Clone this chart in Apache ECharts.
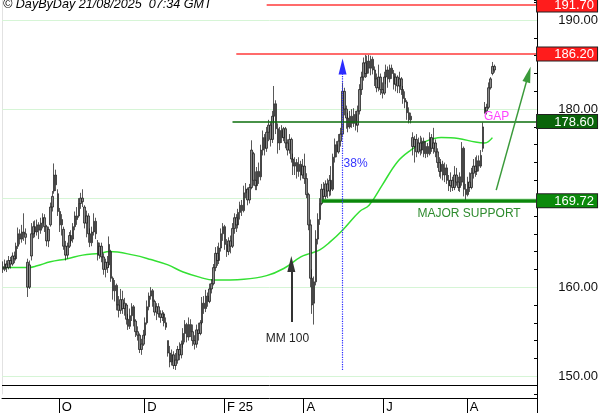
<!DOCTYPE html>
<html><head><meta charset="utf-8">
<script src="https://cdn.jsdelivr.net/npm/echarts@6/dist/echarts.min.js"></script>
<style>html,body{margin:0;padding:0;background:#fff}#c{width:600px;height:413px}</style>
</head><body><div id="c"></div>
<script>
// ---- data ----
const slotCount = 282; // trading-day slots on the x axis (last ~22 are empty)
const categories = Array.from({length: slotCount}, (_, i) => String(i));
const monthTickIndex = [30, 75, 117, 159, 201, 245];
const monthTickLabels = ['O', 'D', 'F 25', 'A', 'J', 'A'];
// [open, close, low, high]
const ohlc = [
[162.3,162.0,161.6,162.9],[162.0,162.6,161.8,163.1],[162.6,162.2,161.7,163.0],[162.2,163.0,162.0,163.5],[163.0,162.6,162.1,163.4],
[162.6,163.5,162.4,163.9],[163.5,163.2,162.7,164.0],[163.2,164.6,163.0,165.0],[164.6,166.0,164.3,166.7],[166.0,165.4,164.8,166.5],
[165.4,166.2,165.0,167.0],[166.2,166.0,165.2,168.3],[166.0,165.6,164.8,166.6],[162.8,160.0,158.9,163.2],[160.0,162.5,159.8,163.0],
[163.5,166.0,163.0,167.2],[166.0,166.8,165.5,167.4],[166.8,166.2,165.6,167.5],[166.2,167.0,165.8,167.6],[167.0,166.4,165.4,167.3],
[166.4,167.2,166.0,167.8],[167.2,167.8,166.6,168.3],[167.8,166.8,166.2,168.2],[166.8,165.2,164.6,167.0],[165.2,166.5,164.5,166.8],
[167.0,169.0,166.8,169.5],[169.0,170.2,168.5,170.8],[170.8,172.6,170.5,173.9],[172.6,171.5,170.8,173.2],[170.5,168.5,168.0,171.0],
[168.5,167.0,166.2,168.9],[167.0,167.6,165.8,168.2],[166.5,164.6,164.2,166.8],[164.6,163.6,163.0,165.2],[163.6,164.6,163.2,165.0],
[164.6,165.8,164.4,166.2],[165.8,165.2,164.9,166.4],[165.4,166.8,165.0,167.2],[166.8,168.0,166.4,168.5],[168.0,167.6,167.0,169.0],
[168.0,169.4,167.8,170.0],[169.4,170.0,168.8,170.6],[170.0,169.6,169.0,171.0],[169.0,167.2,166.6,169.2],[167.2,168.0,165.6,168.6],
[168.0,166.0,165.0,168.3],[166.0,165.0,164.5,166.6],[165.0,166.2,164.6,166.8],[166.2,167.4,165.8,168.3],[167.4,166.0,165.4,167.8],
[165.0,163.6,163.0,165.3],[163.6,164.6,163.2,165.0],[164.6,163.4,162.8,165.0],[163.4,162.0,161.4,163.8],[162.0,162.8,161.1,163.2],
[162.8,162.2,161.6,163.5],[162.5,164.8,162.2,165.7],[164.0,161.0,160.6,164.2],[161.0,159.6,158.6,161.2],[159.6,160.2,158.4,160.8],
[160.2,158.0,157.4,160.4],[158.0,157.4,156.6,159.0],[157.4,158.6,157.0,159.8],[158.6,157.6,157.0,159.6],[157.6,158.2,156.8,158.8],
[158.0,156.4,155.8,158.2],[156.4,155.6,155.2,157.0],[155.6,156.8,155.3,157.6],[156.8,157.8,156.2,158.2],[157.8,156.2,155.6,158.0],
[156.2,155.0,154.4,156.4],[155.0,154.6,154.0,155.6],[154.6,153.0,152.6,154.8],[153.0,153.6,152.4,154.2],[153.6,154.6,153.4,155.2],
[154.6,156.0,154.2,156.6],[156.0,157.8,155.8,158.5],[157.8,159.0,157.4,159.4],[159.0,159.6,158.6,160.0],[159.6,158.4,157.8,159.8],
[158.4,157.2,156.8,158.6],[157.2,157.8,156.3,158.2],[157.8,157.0,156.6,158.2],[157.0,156.6,156.0,157.4],[156.6,157.0,156.2,157.4],
[157.0,156.0,155.6,157.2],[156.0,155.5,155.2,156.6],[154.0,152.6,152.2,154.0],[152.6,151.6,151.0,153.4],[151.6,152.4,151.2,153.0],
[152.4,151.2,150.8,152.8],[151.2,151.8,150.7,152.6],[151.8,153.0,151.4,153.4],[153.0,152.4,151.8,153.8],[152.4,153.6,152.0,154.0],
[153.6,154.8,153.2,155.4],[154.8,155.8,153.8,156.3],[155.8,154.4,153.8,156.0],[154.4,155.8,154.0,156.6],[155.8,155.0,154.4,156.4],
[155.0,154.0,153.4,155.8],[154.0,153.6,153.0,154.6],[153.6,155.2,153.2,155.8],[155.2,154.8,154.0,156.0],[154.8,156.0,154.6,156.3],
[156.0,158.2,155.8,158.9],[158.2,157.6,157.0,159.0],[157.6,159.0,157.2,159.7],[159.0,158.4,157.8,159.4],[158.4,159.8,158.2,160.4],
[159.8,160.4,159.3,160.9],[160.4,162.2,160.2,162.6],[162.2,163.8,161.8,164.5],[163.8,163.0,162.4,164.6],[163.0,164.4,162.6,165.0],
[164.4,166.0,164.0,166.6],[166.0,166.8,165.2,167.2],[166.8,164.8,164.2,167.0],[164.8,164.0,163.4,165.4],[164.0,165.2,163.6,165.6],
[165.2,164.6,163.8,165.8],[164.6,166.6,164.4,167.2],[166.6,167.8,166.0,168.3],[167.8,167.0,166.2,168.2],[167.0,168.4,166.6,168.8],
[168.4,169.2,167.6,169.6],[169.2,168.6,168.0,169.8],[168.6,170.6,168.4,171.4],[170.6,171.0,170.0,171.7],[171.0,169.8,169.2,171.2],
[169.8,171.2,169.4,171.6],[171.2,175.4,171.0,176.5],[175.0,172.0,171.4,175.2],[172.0,171.4,170.9,173.0],[171.4,173.0,170.9,173.5],
[173.0,172.4,171.6,174.0],[172.4,175.4,172.0,176.0],[175.4,176.8,174.8,177.6],[176.8,175.6,174.8,177.2],[175.6,177.4,175.2,178.0],
[177.4,178.2,176.4,178.8],[178.2,176.6,175.8,178.6],[176.6,179.2,176.2,179.8],[179.2,180.6,178.4,182.6],[180.6,177.8,177.2,181.0],
[177.8,176.2,175.0,178.4],[176.2,177.6,175.4,178.0],[177.6,176.8,176.2,178.2],[176.8,177.8,176.4,178.0],[177.8,176.2,175.6,178.0],
[176.2,175.4,174.8,176.6],[175.4,176.6,175.0,177.2],[176.6,174.4,174.0,176.8],[174.4,173.6,172.6,175.0],[173.6,174.0,172.6,174.6],
[174.0,173.0,172.2,174.4],[173.0,173.8,172.4,174.6],[173.8,172.6,172.0,174.2],[172.6,173.6,172.2,174.4],[173.6,172.2,171.6,175.0],
[172.2,170.4,170.0,172.8],[170.4,167.0,166.4,170.6],[167.0,161.0,160.0,167.6],[161.0,158.0,157.0,162.0],[158.2,160.6,155.8,161.2],
[160.6,165.4,160.2,166.4],[165.4,167.6,164.8,168.3],[167.6,169.4,167.0,170.0],[169.4,171.0,169.2,171.6],[171.0,170.2,169.8,171.8],
[170.2,171.6,169.9,172.0],[171.6,170.8,170.0,172.2],[170.8,172.0,170.2,172.6],[172.0,171.0,170.3,173.6],[171.0,174.6,170.8,175.0],
[174.6,176.0,174.0,176.7],[176.0,175.2,174.6,176.4],[175.2,176.4,175.0,177.2],[176.4,177.2,175.8,177.9],[177.2,182.0,177.0,183.0],
[182.0,180.0,179.3,182.4],[180.0,179.0,177.8,180.4],[179.0,178.0,177.4,179.6],[178.0,179.2,177.8,179.8],[179.2,178.4,177.9,180.0],
[178.4,179.4,178.0,180.1],[179.4,178.2,177.6,179.8],[178.2,179.8,177.4,180.4],[179.8,182.2,179.4,182.8],[182.2,183.6,181.6,184.2],
[183.6,185.2,183.2,185.8],[185.2,184.0,183.5,186.1],[184.0,185.4,183.6,186.0],[185.4,184.6,184.0,186.1],[184.6,185.6,183.8,186.0],
[185.6,184.4,183.9,185.9],[184.4,183.4,182.6,184.8],[183.4,182.4,181.9,184.0],[182.4,183.6,182.0,185.0],[183.6,182.2,181.6,184.0],
[182.2,181.8,181.2,183.0],[181.8,183.6,181.6,184.2],[183.6,184.4,182.8,185.0],[184.4,183.4,182.4,184.8],[183.4,184.6,183.0,185.0],
[184.6,184.0,183.4,185.0],[184.0,182.8,182.2,184.4],[182.8,183.6,182.0,184.0],[183.6,182.6,181.8,183.8],[182.6,183.4,181.8,184.2],
[183.4,182.2,181.6,183.6],[182.2,181.2,180.6,182.6],[181.2,180.8,180.1,182.0],[180.8,179.6,178.8,181.0],[179.6,178.8,178.4,180.2],
[178.8,179.2,178.4,179.6],[176.8,175.8,174.8,177.4],[175.8,176.6,174.0,177.0],[176.6,175.2,174.6,177.2],[175.2,176.2,175.0,176.8],
[176.2,175.4,174.8,177.0],[175.4,176.4,175.0,176.8],[176.4,175.0,174.6,176.8],[175.0,175.8,174.5,176.4],[175.8,175.0,174.6,176.2],
[175.0,176.8,174.8,177.4],[176.8,175.6,175.2,177.2],[175.6,176.2,175.0,177.9],[176.2,175.2,174.6,176.6],[175.2,174.0,173.4,175.6],
[174.0,173.0,172.4,174.6],[173.0,173.8,172.2,174.4],[173.8,172.6,172.0,174.2],[172.6,173.4,171.8,174.0],[173.4,172.0,171.6,173.8],
[172.0,171.4,170.8,172.6],[171.4,172.0,170.7,172.9],[172.0,171.2,170.8,172.4],[171.2,172.6,170.9,173.6],[172.6,171.8,171.4,173.4],
[171.8,171.2,170.8,172.4],[171.2,172.4,170.7,172.9],[171.8,175.6,171.4,176.3],[175.6,171.0,170.2,175.8],[171.0,170.4,169.8,171.6],
[170.4,171.8,170.2,172.4],[171.8,171.2,170.7,172.9],[171.2,172.8,171.0,173.4],[172.8,173.6,172.2,174.4],[173.6,173.0,172.4,174.6],
[173.0,174.2,172.6,174.8],[174.2,173.6,173.0,174.8],[173.6,174.8,173.4,175.4],[175.6,178.0,175.2,178.5],[179.6,180.2,179.5,180.8],
[180.2,179.8,179.4,180.6],[180.2,182.4,180.0,183.0],[182.4,183.4,182.2,183.6],[184.0,184.8,183.8,185.3],[184.8,184.4,184.1,185.0]
];
// 100-day moving average, read at points along the curve: [slot index, value]
const ma100 = [
[0,162.2],[13,162.2],[18,162.4],[25,162.85],[34,163.2],[42,163.6],[51,163.8],[56,164.0],[69,163.6],[78,163.1],
[87,162.5],[95,161.7],[104,161.1],[111,160.8],[127,160.9],[139,161.3],[148,162.1],[157,163.4],[162,163.8],[167,164.2],
[172,165.0],[179,166.4],[188,168.5],[193,169.2],[200,171.5],[208,174.1],[215,175.4],[222,176.3],[231,176.8],[240,176.7],
[249,176.3],[254,176.2],[258,176.8]
];
const yLabelValues = [150, 160, 180, 190];
const gridValues = [150, 160, 170, 180, 190];
const frameValue = 149;
const levelValues = [191.70, 186.20, 178.60, 169.72];
const levelStart = [139, 123, 121, 168];

// ---- styles ----
const FONT = '"Liberation Sans", Arial, sans-serif';
const levelStyle = [
  {line: '#ff3a3a', w: 1.5, bg: '#ff1c1c'},
  {line: '#ff3a3a', w: 1.5, bg: '#ff1c1c'},
  {line: '#0b6e0b', w: 1.5, bg: '#0a640a'},
  {line: '#0a870a', w: 3.5, bg: '#0b8a0b'}
];
const tickSet = new Set(monthTickIndex);
const tickLabelMap = {};
monthTickIndex.forEach((ix, k) => { tickLabelMap[ix] = monthTickLabels[k]; });

const levelLines = levelValues.map((v, k) => [
  {coord: [levelStart[k], v],
   lineStyle: {color: levelStyle[k].line, width: levelStyle[k].w, type: 'solid'},
   label: {show: true, position: 'end', distance: 1,
     formatter: '{v|' + v.toFixed(2) + '}',
     backgroundColor: levelStyle[k].bg, borderColor: '#222', borderWidth: 1,
     padding: [1, 3, 0, 2],
     rich: {v: {width: 55, align: 'right', color: '#fff', fontSize: 13, fontFamily: FONT, lineHeight: 12}}}},
  {coord: [slotCount - 1, v]}
]);

const chart = echarts.init(document.getElementById('c'), null, {renderer: 'canvas'});
chart.setOption({
  animation: false,
  backgroundColor: '#fff',
  graphic: [{type: 'text', left: 3, top: -2, z: 100,
    style: {text: '\u00A9 DayByDay 21/08/2025  07:34 GMT', font: 'italic 12.6px "Liberation Sans", Arial, sans-serif', fill: '#000'}}],
  grid: [
    {left: 2, right: 63, top: 0, bottom: 19, outerBoundsMode: 'none'},
    {left: 2, right: 63, top: 394, bottom: 0, outerBoundsMode: 'none'}
  ],
  xAxis: [
    {type: 'category', gridIndex: 0, data: categories, boundaryGap: true, show: false},
    {type: 'category', gridIndex: 1, data: categories, boundaryGap: true, position: 'top', offset: -4,
     axisLine: {show: true, onZero: false, lineStyle: {color: '#000', width: 1}},
     axisTick: {show: true, inside: true, length: 15, interval: (i) => tickSet.has(i), lineStyle: {color: '#000', width: 1}},
     axisLabel: {show: true, inside: true, interval: (i) => tickSet.has(i), formatter: (val, i) => tickLabelMap[i] || '',
       align: 'left', margin: 3, padding: [0, 0, 0, 2], fontSize: 13, color: '#000', fontFamily: FONT},
     splitLine: {show: false}}
  ],
  yAxis: [
    {type: 'value', gridIndex: 0, position: 'right', min: 148, max: 192.26, interval: 2,
     axisLine: {show: true, lineStyle: {color: '#000', width: 1}},
     axisTick: {show: true, inside: true, length: 3, lineStyle: {color: '#000'}},
     axisLabel: {formatter: (v) => yLabelValues.indexOf(Math.round(v * 100) / 100) >= 0 ? v.toFixed(2) : '',
       align: 'right', margin: 61, fontSize: 13, color: '#111', fontFamily: FONT},
     splitLine: {show: false}},
    {type: 'value', gridIndex: 1, position: 'right', min: 0, max: 1,
     axisLine: {show: true, onZero: false, lineStyle: {color: '#000', width: 1}},
     axisTick: {show: false}, axisLabel: {show: false}, splitLine: {show: false}},
    {type: 'value', gridIndex: 0, position: 'left', min: 148, max: 192.26, interval: 2,
     axisLine: {show: true, onZero: false, lineStyle: {color: '#e2e2e2', width: 1}},
     axisTick: {show: false}, axisLabel: {show: false}, splitLine: {show: false}}
  ],
  series: [
    {type: 'line', name: 'grid', data: [], xAxisIndex: 0, yAxisIndex: 0, silent: true,
     markLine: {z: 1, silent: true, symbol: ['none', 'none'], label: {show: false}, animation: false,
       data: gridValues.map(v => ({yAxis: v, lineStyle: {color: '#d6f5d6', width: 1, type: 'solid'}}))
         .concat([{yAxis: frameValue, lineStyle: {color: '#000', width: 1, type: 'solid'}}])}},
    {type: 'line', name: 'MM 100', data: ma100, xAxisIndex: 0, yAxisIndex: 0, smooth: 0.4,
     showSymbol: false, silent: true, z: 2, lineStyle: {color: '#33e033', width: 1.5}},
    {type: 'candlestick', name: 'price', data: ohlc, xAxisIndex: 0, yAxisIndex: 0, silent: true, z: 3,
     barWidth: 2,
     itemStyle: {color: '#8a8a8a', color0: '#8a8a8a', borderColor: '#111', borderColor0: '#111', borderWidth: 0.7}},
    {type: 'line', name: 'levels', data: [], xAxisIndex: 0, yAxisIndex: 0, silent: true, clip: false,
     markLine: {z: 6, silent: true, symbol: ['none', 'none'], animation: false, data: levelLines}},
    {type: 'line', name: 'arrows', data: [], xAxisIndex: 0, yAxisIndex: 0, silent: true, clip: false,
     markLine: {z: 7, silent: true, animation: false, label: {show: false}, symbol: ['none', 'triangle'],
       data: [
         [{coord: [179, 150.7], lineStyle: {color: '#2b2bff', width: 1.2, type: 'dotted'}, symbolSize: [12, 10]},
          {coord: [179, 184.8]}],
         [{coord: [152, 156.1], lineStyle: {color: '#333', width: 2, type: 'solid'}, symbolSize: [15, 12]},
          {coord: [152, 162.6]}],
         [{coord: [260, 170.9], lineStyle: {color: '#3a9a3a', width: 1.5, type: 'solid'}, symbolSize: [13, 12]},
          {coord: [277, 183.9]}]
       ]}},
    {type: 'line', name: 'notes', data: [], xAxisIndex: 0, yAxisIndex: 0, silent: true, clip: false,
     markPoint: {z: 8, silent: true, symbol: 'circle', symbolSize: 0, animation: false,
       label: {show: true, position: 'right', distance: 1, fontSize: 12, fontFamily: FONT},
       data: [
         {coord: [179, 173.9], label: {formatter: '38%', color: '#3535ff'}},
         {coord: [138, 154.2], label: {formatter: 'MM 100', color: '#222'}},
         {coord: [253, 179.2], label: {formatter: 'GAP', color: '#ff44ff'}},
         {coord: [218, 168.3], label: {formatter: 'MAJOR SUPPORT', color: '#2e8b2e'}}
       ]}}
  ]
});
</script>
</body></html>
